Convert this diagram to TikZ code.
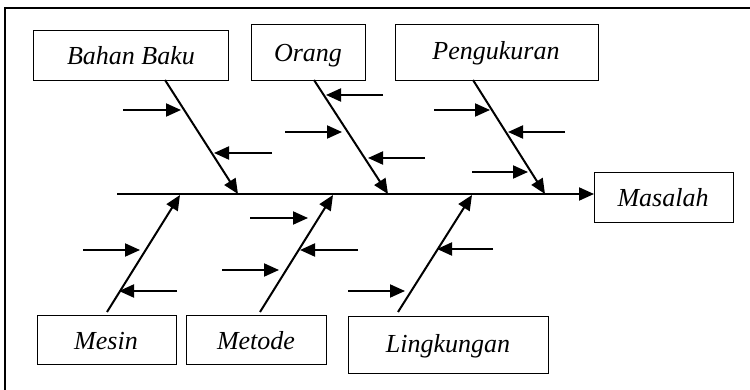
\documentclass[tikz,border=0pt]{standalone}
\usepackage{fontspec}
\setmainfont{Liberation Serif}
\usetikzlibrary{arrows.meta}
\newcommand{\lblfont}{\fontsize{26}{30}\selectfont\itshape}
\begin{document}
\begin{tikzpicture}[x=1pt,y=-1pt,
  box/.style={draw, line width=1.4pt, rectangle, inner sep=0pt, anchor=north west},
  lbl/.style={anchor=base, font=\lblfont, inner sep=0pt},
  bone/.style={line width=2pt, -{Triangle[length=15pt,width=13pt]}},
  twig/.style={line width=2pt, -{Triangle[length=15pt,width=13pt]}}]
\useasboundingbox (0,0) rectangle (750,390);
% frame
\draw[line width=1.4pt] (5,390) -- (5,8) -- (750,8);
% boxes
\node[box, minimum width=195pt, minimum height=50pt] (bb) at (33,30) {};
\node[box, minimum width=114pt, minimum height=56pt] (or) at (251,24) {};
\node[box, minimum width=203pt, minimum height=56pt] (pg) at (395,24) {};
\node[box, minimum width=139pt, minimum height=50pt] (ms) at (594,172) {};
\node[box, minimum width=139pt, minimum height=49pt] (me) at (37,315) {};
\node[box, minimum width=140pt, minimum height=49pt] (mt) at (186,315) {};
\node[box, minimum width=200pt, minimum height=57pt] (lk) at (348,316) {};
% labels
\node[lbl] (bbT) at (131,65) {Bahan Baku};
\node[lbl] (orT) at (308,62) {Orang};
\node[lbl] (pgT) at (496,60) {Pengukuran};
\node[lbl] (msT) at (663,207) {Masalah};
\node[lbl] (meT) at (106,349) {Mesin};
\node[lbl] (mtT) at (256,349) {Metode};
\node[lbl] (lkT) at (448,352) {Lingkungan};
% spine
\coordinate (sp0) at (117,194);
\draw[bone] (sp0) -- (ms.west |- sp0);
% bone coordinates
\coordinate (b1s) at (165,80);  \coordinate (b1e) at (238,194);
\coordinate (b2s) at (314,80);  \coordinate (b2e) at (388,194);
\coordinate (b3s) at (473,80);  \coordinate (b3e) at (545,194);
\coordinate (b4s) at (107,312); \coordinate (b4e) at (180,195);
\coordinate (b5s) at (260,312); \coordinate (b5e) at (333,195);
\coordinate (b6s) at (398,312); \coordinate (b6e) at (472,195);
\draw[bone] (b1s) -- (b1e);
\draw[bone] (b2s) -- (b2e);
\draw[bone] (b3s) -- (b3e);
\draw[bone] (b4s) -- (b4e);
\draw[bone] (b5s) -- (b5e);
\draw[bone] (b6s) -- (b6e);
% twigs
\coordinate (t1a) at (123,110); \coordinate (t1b) at (181,110);
\coordinate (t2a) at (272,153); \coordinate (t2b) at (214,153);
\coordinate (t3a) at (383,95);  \coordinate (t3b) at (326,95);
\coordinate (t4a) at (285,132); \coordinate (t4b) at (342,132);
\coordinate (t5a) at (425,158); \coordinate (t5b) at (368,158);
\coordinate (t6a) at (434,110); \coordinate (t6b) at (490,110);
\coordinate (t7a) at (565,132); \coordinate (t7b) at (508,132);
\coordinate (t8a) at (472,172); \coordinate (t8b) at (528,172);
\coordinate (t9a) at (83,250);  \coordinate (t9b) at (140,250);
\coordinate (t10a) at (177,291); \coordinate (t10b) at (119,291);
\coordinate (t11a) at (250,218); \coordinate (t11b) at (308,218);
\coordinate (t12a) at (358,250); \coordinate (t12b) at (300,250);
\coordinate (t13a) at (222,270); \coordinate (t13b) at (279,270);
\coordinate (t14a) at (493,249); \coordinate (t14b) at (437,249);
\coordinate (t15a) at (348,291); \coordinate (t15b) at (405,291);
\foreach \i in {1,...,15} {\draw[twig] (t\i a) -- (t\i b);}
\end{tikzpicture}
\end{document}
